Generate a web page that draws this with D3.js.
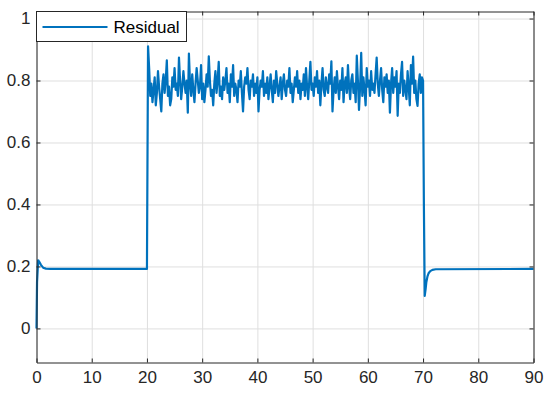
<!DOCTYPE html>
<html>
<head>
<meta charset="utf-8">
<script src="https://cdn.jsdelivr.net/npm/d3@7"></script>
<style>
  body { margin: 0; background: #fff; }
  svg { display: block; font-family: "Liberation Sans", Arial, sans-serif; }
  .axis text { fill: #262626; font-size: 17px; }
  .axis path, .axis line { stroke: #262626; }
  .grid line { stroke: #dfdfdf; }
  .grid path { display: none; }
</style>
</head>
<body>
<svg id="chart" width="550" height="395"></svg>
<script>
const xTicks = [0, 10, 20, 30, 40, 50, 60, 70, 80, 90];
const yTicks = [0, 0.2, 0.4, 0.6, 0.8, 1];
const legendLabel = "Residual";

// start-up transient and flat part until the step at t = 20
const startT = [0, 0.1, 0.3, 0.5, 0.8, 1.2, 1.7, 2.5, 20];
const startY = [0.0, 0.15, 0.22, 0.215, 0.205, 0.196, 0.193, 0.192, 0.192];

// noisy section, sampled every 0.2 s from 20.2 to 70 (one row per second)
const noiseT0 = 20.2;
const noiseStep = 0.2;
const noiseY = [
  0.91, 0.84, 0.75, 0.79, 0.73,
  0.77, 0.81, 0.72, 0.76, 0.83,
  0.78, 0.74, 0.70, 0.79, 0.82,
  0.76, 0.80, 0.865, 0.75, 0.78,
  0.72, 0.74, 0.81, 0.78, 0.84,
  0.77, 0.79, 0.75, 0.874, 0.80,
  0.74, 0.78, 0.83, 0.79, 0.76,
  0.80, 0.696, 0.887, 0.79, 0.75,
  0.82, 0.77, 0.73, 0.79, 0.84,
  0.80, 0.76, 0.78, 0.85, 0.74,
  0.79, 0.73, 0.77, 0.82, 0.78,
  0.878, 0.80, 0.75, 0.77, 0.72,
  0.79, 0.83, 0.76, 0.80, 0.86,
  0.75, 0.78, 0.74, 0.81, 0.77,
  0.80, 0.84, 0.76, 0.79, 0.73,
  0.82, 0.78, 0.85, 0.75, 0.79,
  0.77, 0.73, 0.80, 0.78, 0.83,
  0.76, 0.70, 0.78, 0.81, 0.79,
  0.84, 0.77, 0.74, 0.80, 0.78,
  0.82, 0.75, 0.79, 0.76, 0.81,
  0.70, 0.77, 0.80, 0.78, 0.83,
  0.75, 0.79, 0.76, 0.81, 0.74,
  0.78, 0.82, 0.77, 0.73, 0.80,
  0.76, 0.83, 0.79, 0.75, 0.78,
  0.81, 0.74, 0.79, 0.82, 0.77,
  0.75, 0.80, 0.78, 0.84, 0.76,
  0.79, 0.73, 0.77, 0.81, 0.78,
  0.83, 0.76, 0.80, 0.74, 0.79,
  0.77, 0.82, 0.75, 0.84, 0.78,
  0.74, 0.80, 0.86, 0.77, 0.79,
  0.75, 0.81, 0.78, 0.83, 0.76,
  0.80, 0.72, 0.79, 0.84, 0.77,
  0.75, 0.81, 0.78, 0.76, 0.82,
  0.79, 0.862, 0.70, 0.77, 0.81,
  0.76, 0.83, 0.78, 0.74, 0.80,
  0.77, 0.84, 0.73, 0.79, 0.81,
  0.76, 0.85, 0.78, 0.74, 0.80,
  0.82, 0.76, 0.79, 0.73, 0.88,
  0.80, 0.705, 0.78, 0.889, 0.75,
  0.81, 0.77, 0.72, 0.84, 0.78,
  0.80, 0.75, 0.83, 0.77, 0.79,
  0.76, 0.82, 0.874, 0.79, 0.75,
  0.80, 0.84, 0.77, 0.73, 0.81,
  0.78, 0.82, 0.76, 0.80, 0.696,
  0.79, 0.84, 0.76, 0.81, 0.78,
  0.83, 0.686, 0.79, 0.76, 0.82,
  0.86, 0.75, 0.80, 0.77, 0.74,
  0.83, 0.78, 0.72, 0.85, 0.79,
  0.877, 0.76, 0.80, 0.74, 0.718,
  0.79, 0.82, 0.76, 0.81, 0.80
];

// drop at t = 70 and recovery
const endT = [70.15, 70.3, 70.45, 70.6, 70.8, 71.0, 71.3, 71.7, 72.3, 90];
const endY = [0.40, 0.105, 0.125, 0.15, 0.168, 0.178, 0.185, 0.189, 0.191, 0.192];

const svg = d3.select('#chart');
const plotLeft = 36.5, plotRight = 533.5, plotTop = 11.5, plotBottom = 362.5;

const x = d3.scaleLinear().domain([0, 90]).range([plotLeft, plotRight]);
const y = d3.scaleLinear().domain([-0.11, 1.0227]).range([plotBottom, plotTop]);

const points = [];
startT.forEach((t, i) => points.push([t, startY[i]]));
noiseY.forEach((v, i) => points.push([noiseT0 + i * noiseStep, v]));
endT.forEach((t, i) => points.push([t, endY[i]]));

// grid
svg.append('g').attr('class', 'grid')
  .attr('transform', `translate(0,${plotBottom})`)
  .call(d3.axisBottom(x).tickValues(xTicks).tickSize(-(plotBottom - plotTop)).tickFormat(''));
svg.append('g').attr('class', 'grid')
  .attr('transform', `translate(${plotLeft},0)`)
  .call(d3.axisLeft(y).tickValues(yTicks).tickSize(-(plotRight - plotLeft)).tickFormat(''));

// data line
svg.append('path')
  .datum(points)
  .attr('fill', 'none')
  .attr('stroke', '#0072BD')
  .attr('stroke-width', 2.2)
  .attr('stroke-linejoin', 'round')
  .attr('d', d3.line().x(d => x(d[0])).y(d => y(d[1])));

// axes (ticks pointing inwards, box on)
const tickLen = 4;
svg.append('g').attr('class', 'axis')
  .attr('transform', `translate(0,${plotBottom})`)
  .call(d3.axisBottom(x).tickValues(xTicks).tickSizeInner(-tickLen).tickSizeOuter(0).tickPadding(8))
  .selectAll('text').attr('dy', '0.71em');
svg.append('g').attr('class', 'axis')
  .attr('transform', `translate(0,${plotTop})`)
  .call(d3.axisTop(x).tickValues(xTicks).tickSizeInner(-tickLen).tickSizeOuter(0).tickFormat(''));
svg.append('g').attr('class', 'axis')
  .attr('transform', `translate(${plotLeft},0)`)
  .call(d3.axisLeft(y).tickValues(yTicks).tickSizeInner(-tickLen).tickSizeOuter(0).tickPadding(6)
    .tickFormat(d => d3.format('~g')(d)));
svg.append('g').attr('class', 'axis')
  .attr('transform', `translate(${plotRight},0)`)
  .call(d3.axisRight(y).tickValues(yTicks).tickSizeInner(-tickLen).tickSizeOuter(0).tickFormat(''));

// legend
const lg = svg.append('g').attr('transform', `translate(${plotLeft},${plotTop})`);
lg.append('rect')
  .attr('x', 0).attr('y', 0).attr('width', 150).attr('height', 30)
  .attr('fill', '#fff').attr('stroke', '#262626').attr('stroke-width', 1);
lg.append('line')
  .attr('x1', 6).attr('x2', 71).attr('y1', 15.5).attr('y2', 15.5)
  .attr('stroke', '#0072BD').attr('stroke-width', 2.2);
lg.append('text')
  .attr('x', 77).attr('y', 15.5).attr('dy', '0.35em')
  .attr('font-size', 17).attr('fill', '#000')
  .text(legendLabel);
</script>
</body>
</html>
